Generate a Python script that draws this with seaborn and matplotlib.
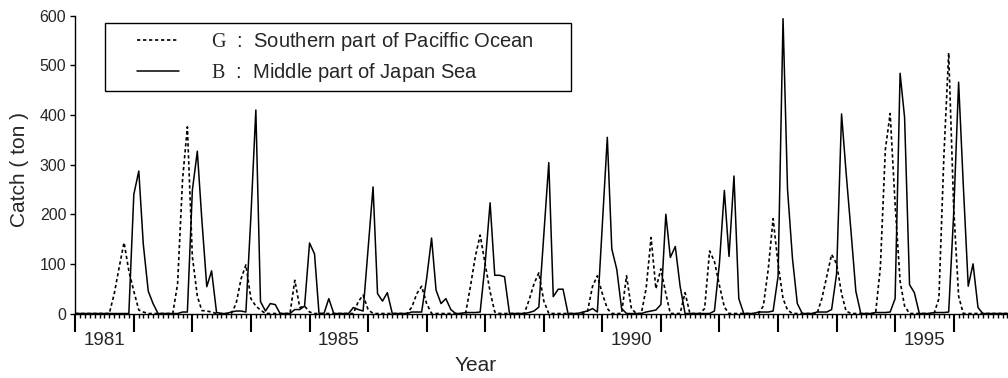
import pandas as pd
import numpy as np
import seaborn as sns
import matplotlib.pyplot as plt
import matplotlib.dates as mdates
from matplotlib.ticker import NullFormatter, MultipleLocator
from matplotlib.lines import Line2D
from matplotlib.legend_handler import HandlerLine2D

# monthly catch (ton), Jan 1981 .. Dec 1996, one row per year
g_catch = [0, 0, 0, 0, 0, 0, 0, 0, 40, 92, 143, 86,
           45, 7, 3, 0, 0, 0, 0, 0, 0, 60, 270, 376,
           115, 35, 6, 5, 3, 0, 0, 0, 0, 20, 70, 98,
           30, 15, 7, 0, 0, 0, 0, 0, 0, 67, 12, 15,
           3, 0, 0, 0, 0, 0, 0, 0, 0, 0, 24, 37,
           8, 0, 0, 0, 0, 0, 0, 0, 0, 13, 40, 55,
           20, 0, 0, 0, 0, 0, 0, 0, 0, 54, 115, 158,
           100, 44, 3, 0, 0, 0, 0, 0, 0, 27, 60, 82,
           25, 0, 0, 0, 0, 0, 0, 0, 0, 5, 55, 76,
           40, 10, 0, 0, 0, 76, 10, 0, 0, 50, 153, 50,
           90, 40, 0, 0, 0, 42, 0, 0, 0, 10, 126, 105,
           57, 13, 0, 0, 0, 0, 0, 0, 0, 15, 90, 191,
           100, 30, 7, 0, 0, 0, 0, 0, 0, 30, 75, 119,
           100, 40, 5, 0, 0, 0, 0, 0, 0, 93, 330, 403,
           220, 65, 15, 0, 0, 0, 0, 0, 0, 30, 316, 525,
           215, 35, 0, 0, 0, 0, 0, 0, 0, 0, 0, 0]

b_catch = [0, 0, 0, 0, 0, 0, 0, 0, 0, 0, 0, 0,
           240, 287, 140, 45, 20, 0, 0, 0, 0, 0, 3, 3,
           248, 327, 190, 54, 86, 2, 0, 0, 3, 5, 5, 3,
           195, 410, 24, 5, 20, 18, 0, 0, 0, 8, 8, 15,
           142, 120, 0, 0, 30, 0, 0, 0, 0, 12, 8, 5,
           130, 255, 40, 25, 42, 0, 0, 0, 0, 3, 3, 3,
           70, 152, 47, 20, 30, 8, 0, 0, 2, 2, 2, 3,
           100, 223, 77, 77, 74, 0, 0, 0, 0, 2, 5, 13,
           160, 304, 34, 49, 49, 0, 0, 0, 3, 5, 10, 3,
           180, 355, 130, 89, 10, 0, 0, 0, 0, 3, 5, 7,
           18, 200, 113, 135, 55, 0, 0, 0, 0, 0, 0, 5,
           100, 248, 115, 277, 30, 0, 0, 0, 3, 3, 3, 5,
           75, 594, 250, 110, 20, 0, 0, 0, 3, 3, 3, 8,
           80, 402, 285, 165, 45, 0, 0, 0, 2, 2, 2, 3,
           30, 484, 395, 58, 42, 0, 0, 0, 2, 2, 2, 3,
           200, 466, 260, 55, 100, 12, 0, 0, 0, 0, 0, 0]

months = pd.date_range('1981-01-01', periods=len(g_catch), freq='MS')
label_years = [1981, 1985, 1990, 1995]
g_label = r"$\mathrm{G}$  :  Southern part of Paciffic Ocean"
b_label = r"$\mathrm{B}$  :  Middle part of Japan Sea"

sns.set_style("ticks")
plt.rcParams['font.family'] = ['Liberation Sans', 'DejaVu Sans']
plt.rcParams['mathtext.fontset'] = 'custom'
plt.rcParams['mathtext.rm'] = 'Liberation Serif'

fig = plt.figure(figsize=(10.08, 3.78), dpi=100)
ax = fig.add_axes([0.0747, 0.1706, 0.9253, 0.7879])

sns.lineplot(x=months, y=g_catch, ax=ax, color='black', linewidth=1.2,
             linestyle=(0, (2, 1.6)), errorbar=None, label=g_label)
sns.lineplot(x=months, y=b_catch, ax=ax, color='black', linewidth=1.1,
             errorbar=None, label=b_label)

ax.set_ylim(0, 600)
ax.set_xlim(mdates.date2num(pd.Timestamp('1981-01-01')),
            mdates.date2num(pd.Timestamp('1996-12-05')))
ax.yaxis.set_major_locator(MultipleLocator(100))
ax.xaxis.set_major_locator(mdates.YearLocator())
ax.xaxis.set_minor_locator(mdates.MonthLocator())
ax.xaxis.set_major_formatter(NullFormatter())

ax.tick_params(axis='x', which='major', direction='out', length=13, width=1.5, color='black')
ax.tick_params(axis='x', which='minor', direction='out', length=3, width=1, color='black')
ax.tick_params(axis='y', direction='out', length=3.5, width=1, labelsize=11.5,
               color='black', pad=3)

for y in label_years:
    ax.text(mdates.date2num(pd.Timestamp(f'{y}-07-01')), -0.092, str(y),
            transform=ax.get_xaxis_transform(), ha='center', va='center', fontsize=13.5)

sns.despine(ax=ax)
ax.spines['left'].set_linewidth(1.0)
ax.spines['bottom'].set_linewidth(1.0)
ax.spines['left'].set_color('black')
ax.spines['bottom'].set_color('black')

ax.set_xlabel('Year', fontsize=15, va='center')
ax.xaxis.set_label_coords(0.429, -0.173)
ax.set_ylabel('Catch ( ton )', fontsize=15, va='center')
ax.yaxis.set_label_coords(-0.060, 0.485)

leg = ax.legend(loc='upper left', bbox_to_anchor=(0.0319, 0.7755, 0.500, 0.2),
                mode='expand', borderaxespad=0, fontsize=14.5, frameon=True,
                fancybox=False, framealpha=1, edgecolor='black', borderpad=0.35,
                labelspacing=0.4, handlelength=3.3, handletextpad=1.6,
                handler_map={Line2D: HandlerLine2D(xpad=1.25)})
leg.get_frame().set_linewidth(1.0)

plt.savefig('out.png', dpi=100)
